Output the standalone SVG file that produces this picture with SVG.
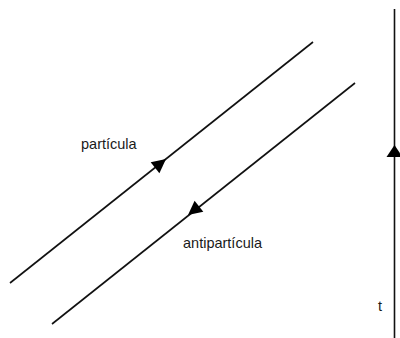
<svg xmlns="http://www.w3.org/2000/svg" width="400" height="338" viewBox="0 0 400 338">
<defs>
<style>
.ln{stroke:#111;stroke-width:1.6;fill:none}
.ah{fill:#000}
.lbl{font-family:"Liberation Sans",Arial,sans-serif;font-size:14.5px;fill:#1a1a1a}
</style>
</defs>
<rect width="400" height="338" fill="#fff"/>
<g id="connectors">
<line class="ln" x1="10" y1="283" x2="313" y2="42"/>
<line class="ln" x1="52" y1="324" x2="355" y2="83"/>
<line class="ln" x1="394.5" y1="9" x2="394.5" y2="338"/>
</g>
<g id="arrow-particula">
<polygon class="ah" points="0,0 -14,-7 -14,7" transform="translate(166,159) rotate(-38.5)"/>
</g>
<g id="arrow-antiparticula">
<polygon class="ah" points="0,0 -14,-7 -14,7" transform="translate(188,215) rotate(141.5)"/>
</g>
<g id="arrow-t">
<polygon class="ah" points="394.5,145 386.5,157 402.5,157"/>
</g>
<g id="label-particula"><text class="lbl" x="81" y="149">partícula</text></g>
<g id="label-antiparticula"><text class="lbl" x="183" y="248">antipartícula</text></g>
<g id="label-t"><text class="lbl" x="378" y="311">t</text></g>
</svg>
